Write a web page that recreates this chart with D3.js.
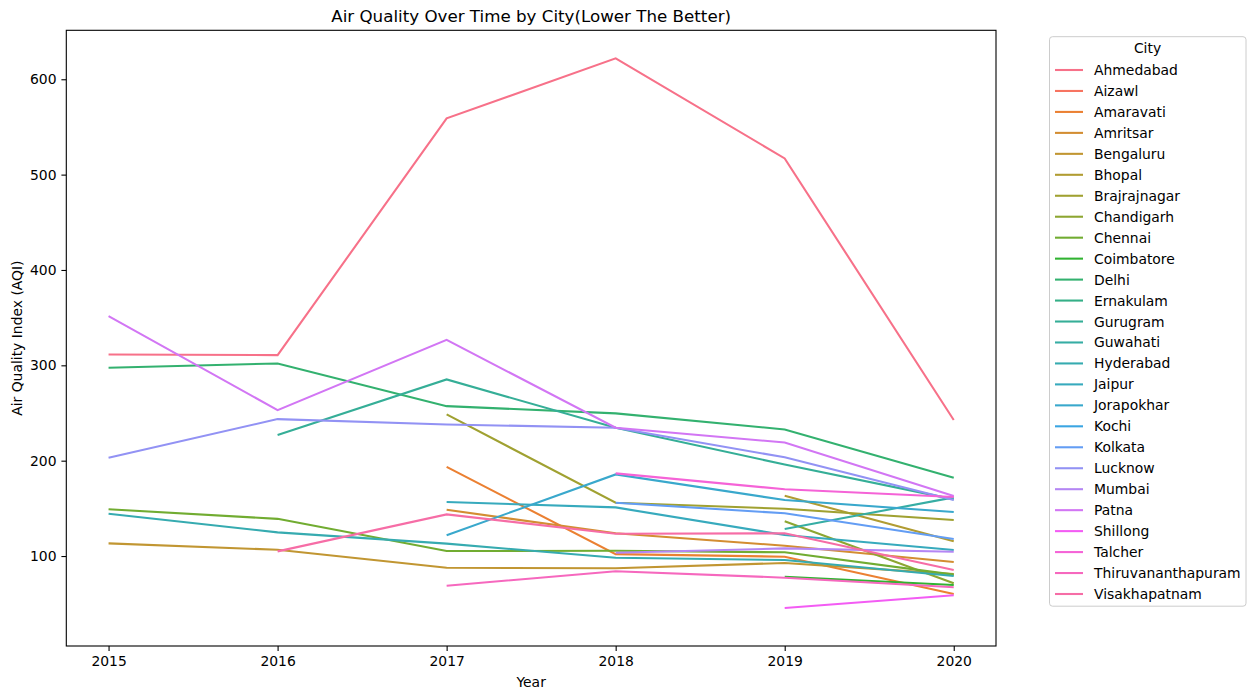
<!DOCTYPE html>
<html>
<head>
<meta charset="utf-8">
<script src="https://cdn.jsdelivr.net/npm/d3@7"></script>
<style>
  body { margin: 0; background: #fff; }
  text { font-family: "DejaVu Sans", sans-serif; fill: #000; }
</style>
</head>
<body>
<div id="chart"></div>
<script>
// yearly mean AQI per city
var years = [2015, 2016, 2017, 2018, 2019, 2020];

var cities = ["Ahmedabad", "Aizawl", "Amaravati", "Amritsar", "Bengaluru", "Bhopal",
    "Brajrajnagar", "Chandigarh", "Chennai", "Coimbatore", "Delhi", "Ernakulam",
    "Gurugram", "Guwahati", "Hyderabad", "Jaipur", "Jorapokhar", "Kochi", "Kolkata",
    "Lucknow", "Mumbai", "Patna", "Shillong", "Talcher", "Thiruvananthapuram", "Visakhapatnam"];

// one row per city, same order as cities, one value per year (null = no data)
var aqi = [
    [311.4, 310.7, 559, 622, 517, 242.6],       // Ahmedabad
    [null, null, null, null, null, 35],         // Aizawl (single point, sets the axis floor)
    [null, null, 193.5, 102, 99.3, 60.1],       // Amaravati
    [null, null, 148.5, 123.8, 110.8, 93.7],    // Amritsar
    [113.3, 106.6, 87.7, 87.1, 92.7, 81],       // Bengaluru
    [null, null, null, null, 163.2, 115.4],     // Bhopal
    [null, null, 248.5, 155.9, 149.6, 137.7],   // Brajrajnagar
    [null, null, null, null, 136.4, 71.4],      // Chandigarh
    [149, 139, 105.2, 105.6, 103.9, 80.5],      // Chennai
    [null, null, null, null, 78.3, 69.6],       // Coimbatore
    [297.4, 302, 257.2, 249.6, 232.8, 182],     // Delhi
    [null, null, null, null, null, null],       // Ernakulam
    [null, 227, 285.2, 234.5, 196, 159.4],      // Gurugram
    [null, null, null, null, 128.3, 161.5],     // Guwahati
    [144.3, 124.8, 113, 98.2, 95.8, 79],        // Hyderabad
    [null, null, 156.6, 151, 122, 106.3],       // Jaipur
    [null, null, 121.7, 185.6, 158.7, 146.1],   // Jorapokhar
    [null, null, null, null, null, null],       // Kochi
    [null, null, null, 155.9, 144.8, 117.8],    // Kolkata
    [203, 243.6, 238, 234.5, 203.5, 158.7],     // Lucknow
    [null, null, null, 103.5, 108, 104.5],      // Mumbai
    [351.6, 253, 326.7, 234.5, 219, 162.9],     // Patna
    [null, null, null, null, 45.5, 58.8],       // Shillong
    [null, null, null, 186.7, 170, 162],        // Talcher
    [null, null, 68.9, 84, 77.3, 67.2],         // Thiruvananthapuram
    [null, 104.9, 143.7, 123.4, 123.8, 85.3]    // Visakhapatnam
];

var yTicks = [100, 200, 300, 400, 500, 600];

// seaborn "husl" palette (h=.01, s=.9, l=.65)
function huslToRgb(H, S, L) {
    var m = [[3.2406, -1.5372, -0.4986], [-0.9689, 1.8758, 0.0415], [0.0557, -0.2040, 1.0570]];
    var refU = 0.19784, refV = 0.46834, labE = 0.008856, labK = 903.3;
    var hrad = H / 180 * Math.PI, sinH = Math.sin(hrad), cosH = Math.cos(hrad);
    var sub1 = Math.pow(L + 16, 3) / 1560896;
    var sub2 = sub1 > labE ? sub1 : L / labK;
    var maxC = Infinity;
    m.forEach(function(r) {
        var top = (0.99915 * r[0] + 1.05122 * r[1] + 1.14460 * r[2]) * sub2;
        var rb = 0.86330 * r[2] - 0.17266 * r[1];
        var lb = 0.12949 * r[2] - 0.38848 * r[0];
        var bottom = (rb * sinH + lb * cosH) * sub2;
        [0, 1].forEach(function(t) {
            var C = L * (top - 1.05122 * t) / (bottom + 0.17266 * sinH * t);
            if (C > 0 && C < maxC) maxC = C;
        });
    });
    var C = maxC / 100 * S;
    var U = Math.cos(hrad) * C, V = Math.sin(hrad) * C;
    var t = (L + 16) / 116;
    var Y = Math.pow(t, 3) > labE ? Math.pow(t, 3) : (116 * t - 16) / labK;
    var varU = U / (13 * L) + refU, varV = V / (13 * L) + refV;
    var X = 0 - (9 * Y * varU) / ((varU - 4) * varV - varU * varV);
    var Z = (9 * Y - 15 * varV * Y - varV * X) / (3 * varV);
    var rgb = m.map(function(r) {
        var c = r[0] * X + r[1] * Y + r[2] * Z;
        c = c <= 0.0031308 ? 12.92 * c : 1.055 * Math.pow(c, 1 / 2.4) - 0.055;
        return Math.round(Math.max(0, Math.min(1, c)) * 255);
    });
    return d3.rgb(rgb[0], rgb[1], rgb[2]).formatHex();
}

var palette = cities.map(function(c, i) {
    var h = ((i / cities.length + 0.01) % 1) * 359;
    return huslToRgb(h, 0.9 * 99, 0.65 * 99);
});

var W = 1256, H = 699;
var margin = {top: 30.3, left: 66.3, right: 260, bottom: 53};
var width = 996 - margin.left,
    height = 646 - margin.top;

var svg = d3.select("#chart").append("svg")
    .attr("width", W)
    .attr("height", H);

var g = svg.append("g")
    .attr("transform", "translate(" + margin.left + "," + margin.top + ")");

// matplotlib style 5% padding on both axes
var allVals = [];
aqi.forEach(function(row) { row.forEach(function(v) { if (v != null) allVals.push(v); }); });
var yMin = d3.min(allVals), yMax = d3.max(allVals), yPad = (yMax - yMin) * 0.05;
var xPad = (years[years.length - 1] - years[0]) * 0.05;

var x = d3.scaleLinear()
    .domain([years[0] - xPad, years[years.length - 1] + xPad])
    .range([0, width]);

var y = d3.scaleLinear()
    .domain([yMin - yPad, yMax + yPad])
    .range([height, 0]);

var line = d3.line()
    .defined(function(d) { return d.v != null; })
    .x(function(d) { return x(d.year); })
    .y(function(d) { return y(d.v); });

cities.forEach(function(city, i) {
    var pts = years.map(function(yr, j) { return {year: yr, v: aqi[i][j]}; });
    g.append("path")
        .datum(pts)
        .attr("fill", "none")
        .attr("stroke", palette[i])
        .attr("stroke-width", 2.08)
        .attr("d", line);
});

// axes
var xAxis = g.append("g")
    .attr("transform", "translate(0," + height + ")")
    .call(d3.axisBottom(x).tickValues(years).tickFormat(d3.format("d")).tickSize(4.9).tickPadding(4.9));

var yAxis = g.append("g")
    .call(d3.axisLeft(y).tickValues(yTicks).tickSize(4.9).tickPadding(4.9));

[xAxis, yAxis].forEach(function(a) {
    a.select(".domain").remove();
    a.selectAll(".tick line").attr("stroke", "#000").attr("stroke-width", 1.1);
    a.selectAll(".tick text").style("font-size", "13.9px").attr("fill", "#000")
        .style("font-family", "DejaVu Sans");
});

// frame
g.append("rect")
    .attr("width", width)
    .attr("height", height)
    .attr("fill", "none")
    .attr("stroke", "#000")
    .attr("stroke-width", 1.1);

// titles
svg.append("text")
    .attr("x", margin.left + width / 2)
    .attr("y", 22)
    .attr("text-anchor", "middle")
    .style("font-size", "16.7px")
    .text("Air Quality Over Time by City(Lower The Better)");

svg.append("text")
    .attr("x", margin.left + width / 2)
    .attr("y", 687)
    .attr("text-anchor", "middle")
    .style("font-size", "13.9px")
    .text("Year");

svg.append("text")
    .attr("transform", "translate(22," + (margin.top + height / 2) + ") rotate(-90)")
    .attr("text-anchor", "middle")
    .style("font-size", "13.9px")
    .text("Air Quality Index (AQI)");

// legend
var lg = svg.append("g").attr("transform", "translate(1049.5,36.7)");

lg.append("rect")
    .attr("width", 196.5)
    .attr("height", 569.5)
    .attr("rx", 3)
    .attr("fill", "#fff")
    .attr("fill-opacity", 0.8)
    .attr("stroke", "#cccccc")
    .attr("stroke-width", 1);

lg.append("text")
    .attr("x", 98)
    .attr("y", 16.5)
    .attr("text-anchor", "middle")
    .style("font-size", "13.9px")
    .text("City");

var items = lg.selectAll(".item")
    .data(cities)
    .enter().append("g")
    .attr("class", "item")
    .attr("transform", function(d, i) { return "translate(0," + (33.3 + i * 20.96) + ")"; });

items.append("line")
    .attr("x1", 5.5).attr("x2", 33.5)
    .attr("stroke", function(d, i) { return palette[i]; })
    .attr("stroke-width", 2.08);

items.append("text")
    .attr("x", 44.5)
    .attr("y", 5)
    .style("font-size", "13.9px")
    .text(function(d) { return d; });
</script>
</body>
</html>
